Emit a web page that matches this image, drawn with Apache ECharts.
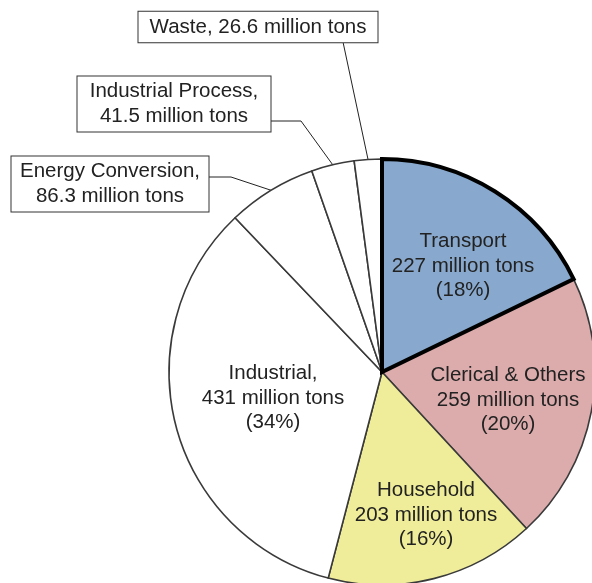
<!DOCTYPE html>
<html>
<head>
<meta charset="utf-8">
<script src="https://cdn.jsdelivr.net/npm/echarts@6/dist/echarts.min.js"></script>
<style>
  html, body { margin: 0; padding: 0; background: #fff; }
  #chart { width: 592px; height: 583px; }
</style>
</head>
<body>
<div id="chart"></div>
<script>
// CO2 emissions by sector (million tons)
const categories = ['Transport', 'Clerical & Others', 'Household', 'Industrial',
                    'Energy Conversion', 'Industrial Process', 'Waste'];
const values = [227, 259, 203, 431, 86.3, 41.5, 26.6];
const sliceColors = ['#88a9cd', '#dcacac', '#efed99', '#ffffff', '#ffffff', '#ffffff', '#ffffff'];
// label text for each slice: 'in' = inside with percentage, 'box' = boxed callout
const labelKind = ['in', 'in', 'in', 'in', 'box', 'box', 'box'];
const labelTitle = ['Transport', 'Clerical & Others', 'Household', 'Industrial,',
                    'Energy Conversion,', 'Industrial Process,', 'Waste,'];

const total = values.reduce((a, b) => a + b, 0);
const pct = v => Math.round(v / total * 100);

// label placement (px) and callout geometry
const CX = 382, CY = 372, R = 213;
const labelPos = {
  0: { x: 463, y: 266 },
  1: { x: 508, y: 400 },
  2: { x: 426, y: 515 },
  3: { x: 273, y: 398 },
  4: { x: 110, y: 184, line: [[231, 177], [209, 177]], w: 185 },
  5: { x: 174, y: 104, line: [[301, 121], [271, 121]], w: 181 },
  6: { x: 258, y: 27, line: [[343, 42], [343, 42]], w: 227 }
};

const font = '"Liberation Sans", Arial, Helvetica, sans-serif';

const data = categories.map((name, i) => {
  const item = {
    name: name,
    value: values[i],
    itemStyle: { color: sliceColors[i] }
  };
  if (labelKind[i] === 'in') {
    item.label = {
      position: 'inside',
      formatter: () => labelTitle[i] + '\n' + values[i] + ' million tons\n(' + pct(values[i]) + '%)'
    };
    item.labelLine = { show: false };
  } else {
    const oneLine = labelTitle[i] === 'Waste,';
    item.label = {
      position: 'outside',
      formatter: () => labelTitle[i] + (oneLine ? ' ' : '\n') + values[i] + ' million tons',
      backgroundColor: '#fff',
      borderColor: '#333',
      borderWidth: 1,
      padding: [3, 6],
      width: labelPos[i].w,
      align: 'center'
    };
    item.labelLine = { show: true, lineStyle: { color: '#222', width: 1 } };
  }
  return item;
});

// second layer: only the Transport outline, drawn on top
const outlineData = categories.map((name, i) => ({
  name: name,
  value: values[i],
  itemStyle: i === 0
    ? { color: 'rgba(0,0,0,0)', borderColor: '#000', borderWidth: 4, borderJoin: 'miter' }
    : { color: 'rgba(0,0,0,0)', borderWidth: 0 }
}));

const chart = echarts.init(document.getElementById('chart'), null, { renderer: 'canvas' });
chart.setOption({
  animation: false,
  backgroundColor: '#fff',
  series: [
    {
      type: 'pie',
      center: [CX, CY],
      radius: R,
      startAngle: 90,
      clockwise: true,
      avoidLabelOverlap: false,
      itemStyle: { borderColor: '#3a3a3a', borderWidth: 1.6 },
      label: {
        show: true,
        color: '#222',
        fontFamily: font,
        fontSize: 20.5,
        lineHeight: 24.5,
        align: 'center'
      },
      labelLine: { show: false },
      emphasis: { disabled: true },
      data: data,
      labelLayout: function (params) {
        const i = params.dataIndex;
        const p = labelPos[i];
        const out = { x: p.x, y: p.y, align: 'center', verticalAlign: 'middle' };
        if (p.line) {
          let anchor = params.labelLinePoints && params.labelLinePoints[0];
          if (!anchor) {
            let before = 0;
            for (let k = 0; k < i; k++) before += values[k];
            const mid = (before + values[i] / 2) / total * 2 * Math.PI;
            anchor = [CX + R * Math.sin(mid), CY - R * Math.cos(mid)];
          }
          out.labelLinePoints = [anchor, p.line[0], p.line[1]];
        }
        return out;
      }
    },
    {
      type: 'pie',
      center: [CX, CY],
      radius: R,
      startAngle: 90,
      clockwise: true,
      silent: true,
      z: 5,
      label: { show: false },
      labelLine: { show: false },
      data: outlineData
    }
  ]
});
</script>
</body>
</html>
